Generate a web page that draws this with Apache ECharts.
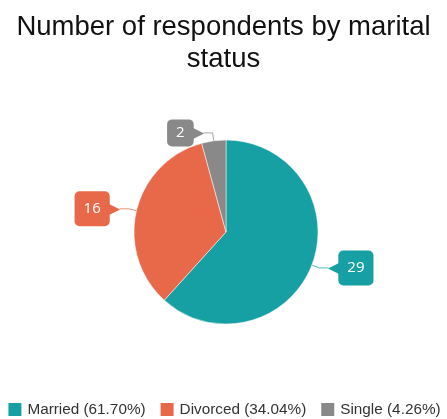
<!DOCTYPE html>
<html>
<head>
<meta charset="utf-8">
<script src="https://cdn.jsdelivr.net/npm/echarts@6/dist/echarts.min.js"></script>
<style>
  html, body { margin: 0; padding: 0; background: #fff; }
  #chart { width: 447px; height: 419px; }
</style>
</head>
<body>
<div id="chart"></div>
<script>
// Respondents grouped by marital status
const categories = ['Married', 'Divorced', 'Single'];
const counts = [29, 16, 2];
const colors = ['#17a0a3', '#e8684a', '#898989'];

const total = counts.reduce((a, b) => a + b, 0);

// Labels on the right half point left, labels on the left half point right
const pointsLeft = [true, false, false];

const data = categories.map((name, i) => ({
  name: name,
  value: counts[i],
  itemStyle: { color: colors[i] },
  label: {
    formatter: pointsLeft[i] ? '{a|◀}{b|{c}}' : '{b|{c}}{a|▶}',
    rich: {
      a: { color: colors[i], fontSize: 17, lineHeight: 18, padding: pointsLeft[i] ? [0, -3, 0, 0] : [0, 0, 0, -3] },
      b: {
        color: '#fff',
        fontSize: 15,
        fontFamily: 'Open Sans',
        backgroundColor: colors[i],
        borderRadius: 5,
        padding: counts[i] < 10 ? [6, 9, 6, 9] : [10, 9, 10, 9]
      }
    }
  },
  labelLine: { lineStyle: { color: colors[i], opacity: 0.75 } }
}));

const chart = echarts.init(document.getElementById('chart'), null, { renderer: 'canvas' });
chart.setOption({
  backgroundColor: '#ffffff',
  animation: false,
  title: {
    text: 'Number of respondents by marital\nstatus',
    left: 'center',
    top: 6,
    textStyle: {
      fontFamily: 'Liberation Sans',
      fontSize: 27.5,
      fontWeight: 'normal',
      color: '#111',
      lineHeight: 32
    }
  },
  legend: {
    bottom: 1,
    left: 'center',
    padding: 0,
    icon: 'rect',
    itemWidth: 15,
    itemHeight: 15,
    itemGap: 13,
    textStyle: { fontFamily: 'Liberation Sans', fontSize: 15.3, color: '#333' },
    formatter: function (name) {
      const i = categories.indexOf(name);
      return name + ' (' + (counts[i] / total * 100).toFixed(2) + '%)';
    },
    data: categories
  },
  series: [{
    type: 'pie',
    center: [226, 232],
    radius: 92,
    startAngle: 90,
    clockwise: true,
    avoidLabelOverlap: false,
    itemStyle: { borderColor: '#fff', borderWidth: 0.5 },
    label: { show: true, position: 'outside', distanceToLabelLine: 0 },
    labelLine: { show: true, length: 8, length2: 9, smooth: false, lineStyle: { width: 1 } },
    emphasis: { disabled: true },
    data: data
  }]
});
</script>
</body>
</html>
